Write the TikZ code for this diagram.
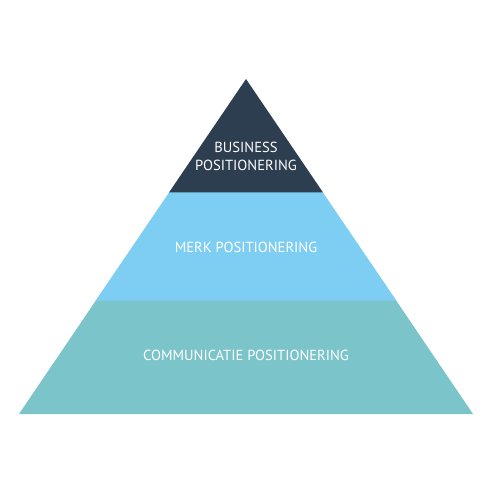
\documentclass[tikz,border=0pt]{standalone}
\usepackage{fontspec}
\setmainfont{PT Sans}
\definecolor{darklayer}{HTML}{2D3E50}
\definecolor{bluelayer}{HTML}{7ECEF4}
\definecolor{teallayer}{HTML}{7BC4C9}
\tikzset{
  lbl/.style={text=white, font=\fontsize{14.6}{18}\selectfont, align=center, inner sep=0pt}
}
\begin{document}
\begin{tikzpicture}[x=1pt,y=-1pt]
\useasboundingbox (0,0) rectangle (500,500);
\fill[teallayer] (96.2,300) -- (395.8,300) -- (473,414) -- (19,414) -- cycle;
\fill[bluelayer] (169.4,192) -- (322.6,192) -- (396.3,300.5) -- (95.7,300.5) -- cycle;
\fill[darklayer] (246,79) -- (322.9,192.3) -- (169.1,192.3) -- cycle;
\node[lbl] (biz) at (246,156) {BUSINESS\\POSITIONERING};
\node[lbl] (merk) at (246,247) {MERK POSITIONERING};
\node[lbl] (comm) at (246,355) {COMMUNICATIE POSITIONERING};
\end{tikzpicture}
\end{document}
